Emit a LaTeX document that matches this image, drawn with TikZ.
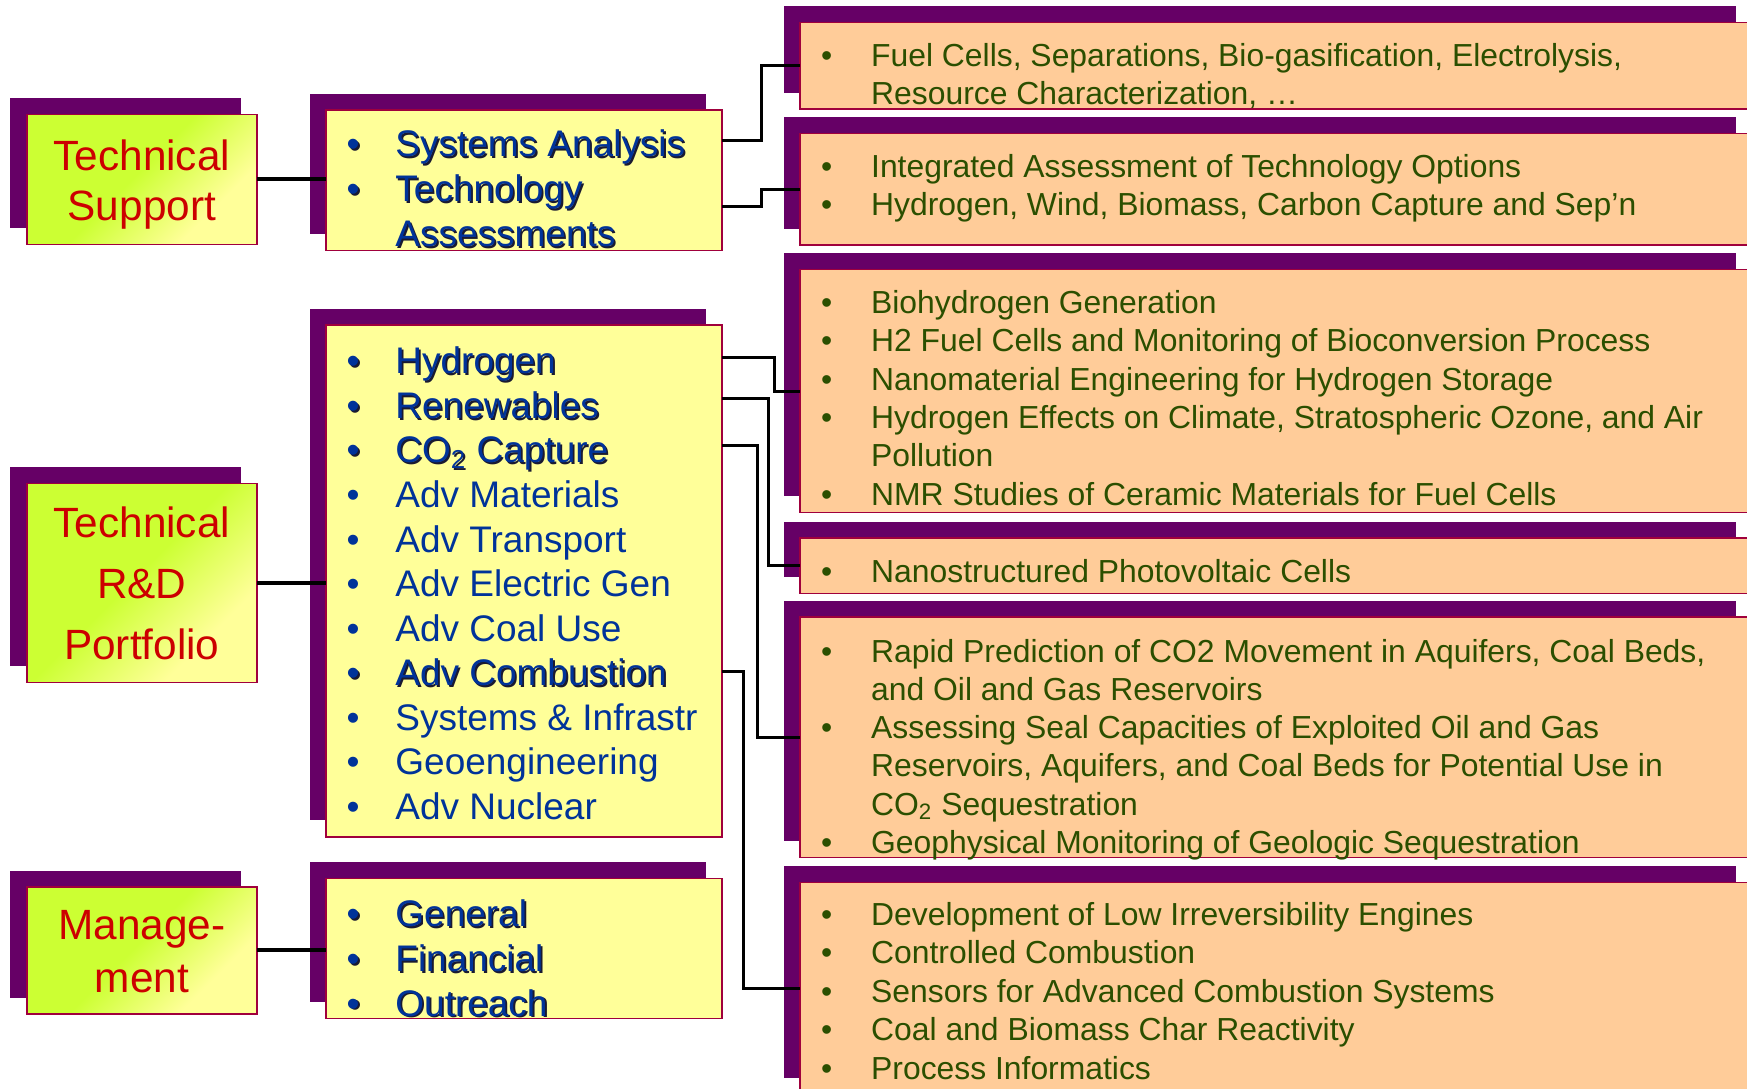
\documentclass[tikz,border=0pt]{standalone}
\usepackage{fontspec}
\setmainfont{Liberation Sans}
\usetikzlibrary{shadows}
\definecolor{shpurple}{HTML}{660066}
\definecolor{bordercol}{HTML}{A0003C}
\definecolor{ylw}{HTML}{FFFF99}
\definecolor{peach}{HTML}{FFCC99}
\definecolor{lgLime}{HTML}{CCFF33}
\definecolor{lgPale}{HTML}{FFFF99}
\definecolor{redtxt}{HTML}{CC0000}
\definecolor{bluetxt}{HTML}{003399}
\definecolor{greentxt}{HTML}{2B4F00}
\definecolor{tshadow}{HTML}{1A1A30}
\pgfdeclareverticalshading{limeshade}{100bp}{color(0bp)=(lgPale); color(30bp)=(lgPale); color(52bp)=(lgLime); color(100bp)=(lgLime)}
\newcommand\fL{\fontsize{19pt}{22pt}\selectfont}
\newcommand\fM{\fontsize{16.6pt}{20pt}\selectfont}
\newcommand\fR{\fontsize{14.3pt}{17pt}\selectfont}
\newcommand\shtx[1]{\rlap{\kern0.8pt\raisebox{-0.8pt}{\color{tshadow}#1}}#1}
\begin{document}
\begin{tikzpicture}[x=0.5pt,y=-0.5pt,
  boxbase/.style={anchor=north west, inner sep=0pt, outer sep=0pt, draw=bordercol, line width=0.7pt,
    general shadow={fill=shpurple, shadow xshift=-7.3pt, shadow yshift=7.3pt}},
  lbox/.style={boxbase, minimum width=103.3pt, shading=limeshade, shading angle=45},
  mbox/.style={boxbase, minimum width=177.75pt, fill=ylw},
  rbox/.style={boxbase, minimum width=427.25pt, fill=peach},
  ltx/.style={anchor=base, inner sep=0pt, font=\fL, text=redtxt},
  mb/.style={anchor=base, inner sep=0pt, font=\fM, text=bluetxt},
  mt/.style={anchor=base west, inner sep=0pt, font=\fM, text=bluetxt},
  rb/.style={anchor=base, inner sep=0pt, font=\fR, text=greentxt},
  rt/.style={anchor=base west, inner sep=0pt, font=\fR, text=greentxt},
  conn/.style={line width=1.35pt, black},
  lconn/.style={line width=1.7pt, black}
]
\useasboundingbox (0,0) rectangle (1568,977);
\clip (0,0) rectangle (1568,977);

% left boxes
\node[lbox, minimum height=58.35pt] (ts) at (24,102.6) {};
\node[lbox, minimum height=89.45pt] (rd) at (24,433.8) {};
\node[lbox, minimum height=57pt] (mg) at (24,796) {};

% middle boxes
\node[mbox, minimum height=63.15pt] (m1) at (292.5,98.7) {};
\node[mbox, minimum height=229.65pt] (m2) at (292.5,291.7) {};
\node[mbox, minimum height=62.85pt] (m3) at (292.5,788.3) {};

% right boxes
\node[rbox, minimum height=38.7pt] (r1) at (718,20.4) {};
\node[rbox, minimum height=50.1pt] (r2) at (718,119.7) {};
\node[rbox, minimum height=109.05pt] (r3) at (718,242) {};
\node[rbox, minimum height=24.7pt] (r4) at (718,483.1) {};
\node[rbox, minimum height=107.9pt] (r5) at (718,554) {};
\node[rbox, minimum height=95pt] (r6) at (718,791.9) {};

% left texts
\node[ltx] (ts1) at (127.3,152.6) {Technical};
\node[ltx] (ts2) at (127.3,198) {Support};
\node[ltx] (rd1) at (127.3,482.3) {Technical};
\node[ltx] (rd2) at (127.3,537) {R\&D};
\node[ltx] (rd3) at (127.3,592.3) {Portfolio};
\node[ltx] (mg1) at (127.3,843) {Manage-};
\node[ltx] (mg2) at (127.3,891) {ment};

% middle box 1
\node[mb] (m1b1) at (317,140.5) {\shtx{•}};
\node[mt] (m1t1) at (354.5,140.5) {\shtx{Systems Analysis}};
\node[mb] (m1b2) at (317,181) {\shtx{•}};
\node[mt] (m1t2) at (354.5,181) {\shtx{Technology}};
\node[mt] (m1t3) at (354.5,221.5) {\shtx{Assessments}};

% middle box 2
\node[mb] (m2b1) at (317,335.5) {\shtx{•}};
\node[mt] (m2t1) at (354.5,335.5) {\shtx{Hydrogen}};
\node[mb] (m2b2) at (317,375.5) {\shtx{•}};
\node[mt] (m2t2) at (354.5,375.5) {\shtx{Renewables}};
\node[mb] (m2b3) at (317,415.5) {\shtx{•}};
\node[mt] (m2t3) at (354.5,415.5) {\shtx{CO\textsubscript{2} Capture}};
\node[mb] (m2b4) at (317,455.5) {•};
\node[mt] (m2t4) at (354.5,455.5) {Adv Materials};
\node[mb] (m2b5) at (317,495.5) {•};
\node[mt] (m2t5) at (354.5,495.5) {Adv Transport};
\node[mb] (m2b6) at (317,535.5) {•};
\node[mt] (m2t6) at (354.5,535.5) {Adv Electric Gen};
\node[mb] (m2b7) at (317,575.5) {•};
\node[mt] (m2t7) at (354.5,575.5) {Adv Coal Use};
\node[mb] (m2b8) at (317,615.5) {\shtx{•}};
\node[mt] (m2t8) at (354.5,615.5) {\shtx{Adv Combustion}};
\node[mb] (m2b9) at (317,655.5) {•};
\node[mt] (m2t9) at (354.5,655.5) {Systems \& Infrastr};
\node[mb] (m2b10) at (317,695.5) {•};
\node[mt] (m2t10) at (354.5,695.5) {Geoengineering};
\node[mb] (m2b11) at (317,735.5) {•};
\node[mt] (m2t11) at (354.5,735.5) {Adv Nuclear};

% middle box 3
\node[mb] (m3b1) at (317,832) {\shtx{•}};
\node[mt] (m3t1) at (354.5,832) {\shtx{General}};
\node[mb] (m3b2) at (317,872) {\shtx{•}};
\node[mt] (m3t2) at (354.5,872) {\shtx{Financial}};
\node[mb] (m3b3) at (317,912) {\shtx{•}};
\node[mt] (m3t3) at (354.5,912) {\shtx{Outreach}};

% right box 1
\node[rb] (r1b1) at (742,59.5) {•};
\node[rt] (r1t1) at (781.5,59.5) {Fuel Cells, Separations, Bio-gasification, Electrolysis,};
\node[rt] (r1t2) at (781.5,93.5) {Resource Characterization, …};

% right box 2
\node[rb] (r2b1) at (742,159) {•};
\node[rt] (r2t1) at (781.5,159) {Integrated Assessment of Technology Options};
\node[rb] (r2b2) at (742,193.5) {•};
\node[rt] (r2t2) at (781.5,193.5) {Hydrogen, Wind, Biomass, Carbon Capture and Sep’n};

% right box 3
\node[rb] (r3b1) at (742,281.5) {•};
\node[rt] (r3t1) at (781.5,281.5) {Biohydrogen Generation};
\node[rb] (r3b2) at (742,315.9) {•};
\node[rt] (r3t2) at (781.5,315.9) {H2 Fuel Cells and Monitoring of Bioconversion Process};
\node[rb] (r3b3) at (742,350.3) {•};
\node[rt] (r3t3) at (781.5,350.3) {Nanomaterial Engineering for Hydrogen Storage};
\node[rb] (r3b4) at (742,384.7) {•};
\node[rt] (r3t4) at (781.5,384.7) {Hydrogen Effects on Climate, Stratospheric Ozone, and Air};
\node[rt] (r3t5) at (781.5,419.1) {Pollution};
\node[rb] (r3b6) at (742,453.5) {•};
\node[rt] (r3t6) at (781.5,453.5) {NMR Studies of Ceramic Materials for Fuel Cells};

% right box 4
\node[rb] (r4b1) at (742,522.5) {•};
\node[rt] (r4t1) at (781.5,522.5) {Nanostructured Photovoltaic Cells};

% right box 5
\node[rb] (r5b1) at (742,594.3) {•};
\node[rt] (r5t1) at (781.5,594.3) {Rapid Prediction of CO2 Movement in Aquifers, Coal Beds,};
\node[rt] (r5t2) at (781.5,628.6) {and Oil and Gas Reservoirs};
\node[rb] (r5b3) at (742,662.9) {•};
\node[rt] (r5t3) at (781.5,662.9) {Assessing Seal Capacities of Exploited Oil and Gas};
\node[rt] (r5t4) at (781.5,697.2) {Reservoirs, Aquifers, and Coal Beds for Potential Use in};
\node[rt] (r5t5) at (781.5,731.5) {CO\textsubscript{2} Sequestration};
\node[rb] (r5b6) at (742,765.8) {•};
\node[rt] (r5t6) at (781.5,765.8) {Geophysical Monitoring of Geologic Sequestration};

% right box 6
\node[rb] (r6b1) at (742,830.7) {•};
\node[rt] (r6t1) at (781.5,830.7) {Development of Low Irreversibility Engines};
\node[rb] (r6b2) at (742,865.2) {•};
\node[rt] (r6t2) at (781.5,865.2) {Controlled Combustion};
\node[rb] (r6b3) at (742,899.7) {•};
\node[rt] (r6t3) at (781.5,899.7) {Sensors for Advanced Combustion Systems};
\node[rb] (r6b4) at (742,934.2) {•};
\node[rt] (r6t4) at (781.5,934.2) {Coal and Biomass Char Reactivity};
\node[rb] (r6b5) at (742,968.7) {•};
\node[rt] (r6t5) at (781.5,968.7) {Process Informatics};

% connectors left -> middle
\draw[lconn] (ts.east) -- (ts.east -| m1.west);
\draw[lconn] (rd.east) -- (rd.east -| m2.west);
\draw[lconn] (mg.east) -- (mg.east -| m3.west);

% connectors middle -> right
\coordinate (cSA) at (648,126);
\coordinate (cTA) at (648,185.5);
\coordinate (cHy) at (648,320.5);
\coordinate (cRe) at (648,358);
\coordinate (cCO) at (648,400);
\coordinate (cAC) at (648,603);
\draw[conn] (cSA) -- ++(35.4,0) |- (r1.west);
\draw[conn] (cTA) -- ++(35.4,0) |- (r2.west);
\draw[conn] (cHy) -- ++(46.7,0) |- (r3.west);
\draw[conn] (cRe) -- ++(41.6,0) |- (r4.west);
\draw[conn] (cCO) -- ++(31.7,0) |- (r5.west);
\draw[conn] (cAC) -- ++(19.4,0) |- (r6.west);
\end{tikzpicture}
\end{document}
